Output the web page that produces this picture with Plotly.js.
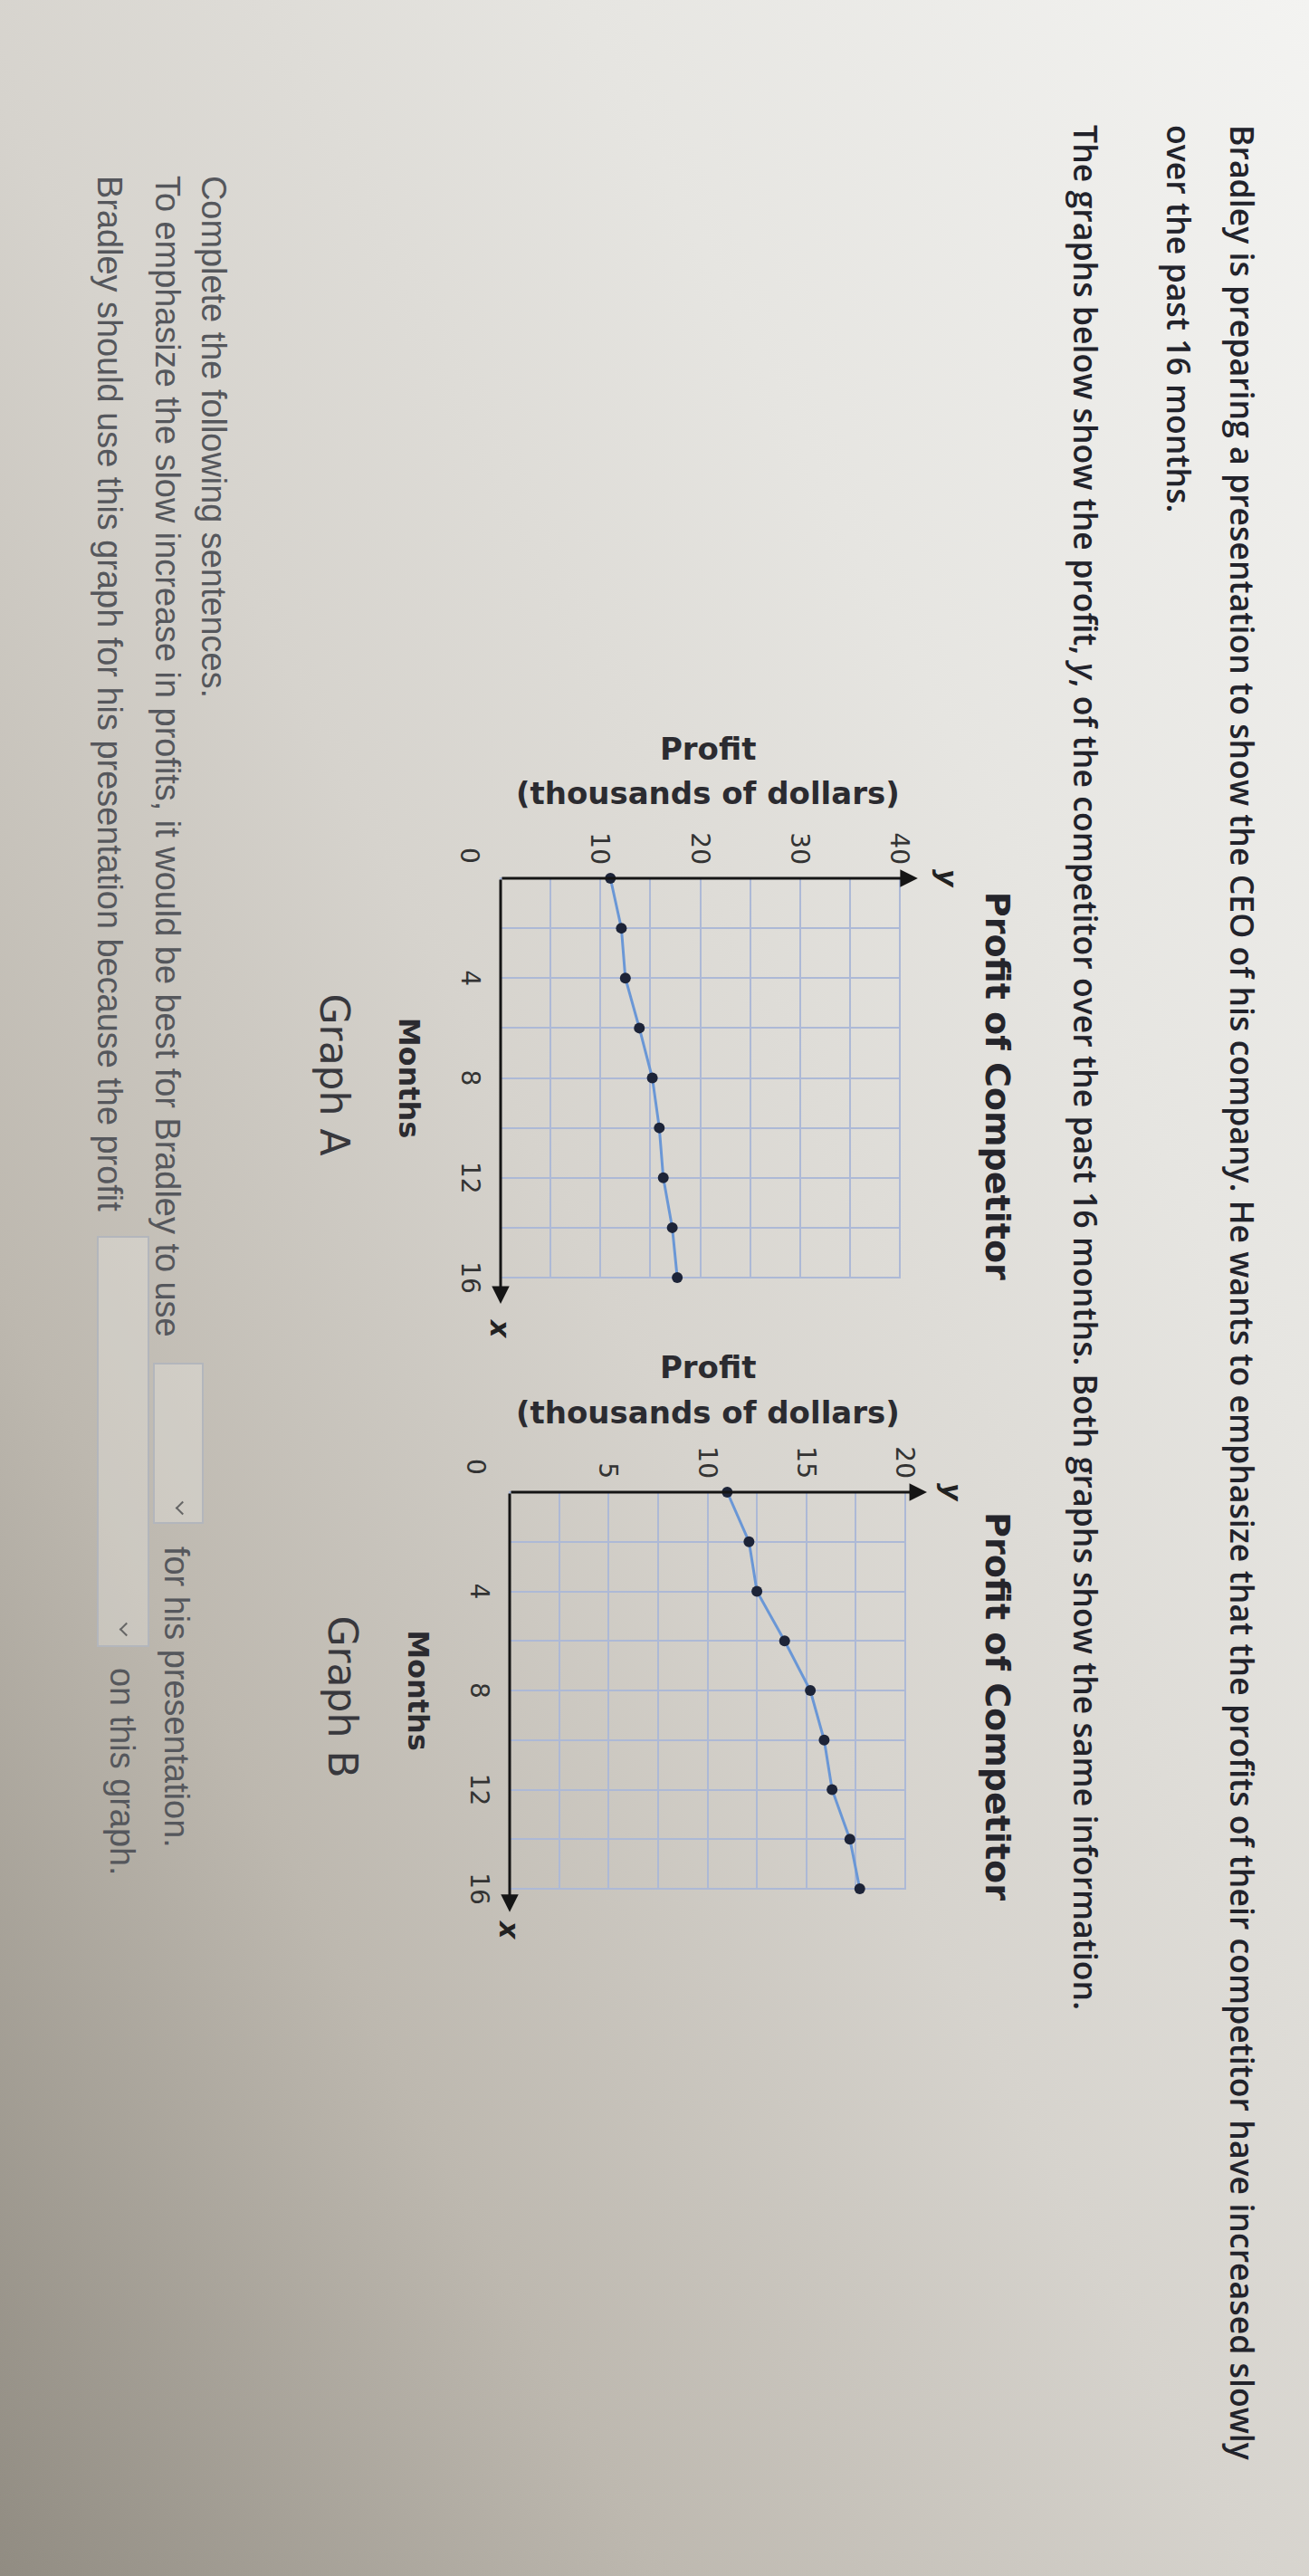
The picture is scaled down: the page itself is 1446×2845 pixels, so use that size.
<!DOCTYPE html>
<html>
<head>
<meta charset="utf-8">
<script src="https://cdn.plot.ly/plotly-3.0.1.min.js"></script>
<style>
html,body{margin:0;padding:0;}
body{width:1446px;height:2845px;overflow:hidden;position:relative;
  background:linear-gradient(to bottom left,#f3f3f1 0%,#e6e5e1 28%,#d6d3cd 52%,#bdb8af 75%,#918c82 100%);}
#page{position:absolute;left:0;top:0;width:2845px;height:1446px;transform-origin:0 0;transform:translate(1446px,0) rotate(90deg);}
.ln{position:absolute;white-space:nowrap;font-family:'Liberation Sans',Arial,sans-serif;transform:translateY(-50%);line-height:1.15;}
.top{color:#22232b;font-family:'Open Sans','Liberation Sans',Arial,sans-serif;font-weight:600;}
.bot{color:#55575c;}
.chart{position:absolute;top:300px;width:780px;height:720px;}
.gl{position:absolute;font-family:'DejaVu Sans',Verdana,sans-serif;font-size:44px;color:#38383d;transform:translate(-50%,-50%);white-space:nowrap;}
.dd{position:absolute;border:2px solid #b3b6bc;background:rgba(250,250,248,0.25);box-sizing:border-box;}
.car{position:absolute;width:9px;height:9px;border-right:2px solid #666;border-bottom:2px solid #666;transform:rotate(45deg);}
</style>
</head>
<body>
<div id="page">
  <div class="ln top" id="L1" style="left:138px;top:74px;">Bradley is preparing a presentation to show the CEO of his company. He wants to emphasize that the profits of their competitor have increased slowly</div>
  <div class="ln top" id="L2" style="left:138px;top:144px;">over the past 16 months.</div>
  <div class="ln top" id="L3" style="left:138px;top:247px;">The graphs below show the profit, <i>y</i>, of the competitor over the past 16 months. Both graphs show the same information.</div>

  <div class="chart" id="chartA" style="left:770px;"></div>
  <div class="chart" id="chartB" style="left:1448px;"></div>
  <div class="gl" style="left:1187px;top:1077px;">Graph A</div>
  <div class="gl" style="left:1874px;top:1068px;">Graph B</div>

  <div class="ln bot" id="B1" style="left:194px;top:1211px;">Complete the following sentences.</div>
  <div class="ln bot" id="B2" style="left:194px;top:1262px;">To emphasize the slow increase in profits, it would be best for Bradley to use</div>
  <div class="dd" style="left:1505px;top:1221px;width:178px;height:56px;"><div class="car" style="left:153px;top:16px;"></div></div>
  <div class="ln bot" id="B2b" style="left:1708px;top:1252px;">for his presentation.</div>
  <div class="ln bot" id="B3" style="left:194px;top:1326px;">Bradley should use this graph for his presentation because the profit</div>
  <div class="dd" style="left:1365px;top:1281px;width:454px;height:58px;"><div class="car" style="left:427px;top:18px;"></div></div>
  <div class="ln bot" id="B3b" style="left:1842px;top:1312px;">on this graph.</div>
</div>
<script>
// ---- data ----
const months = [0, 2, 4, 6, 8, 10, 12, 14, 16];
const profit = [11.0, 12.1, 12.5, 13.9, 15.2, 15.9, 16.3, 17.2, 17.7];
const xTickVals = [4, 8, 12, 16];
const yTickValsA = [10, 20, 30, 40];
const yTickValsB = [5, 10, 15, 20];
const chartTitle = 'Profit of Competitor';
const xTitle = 'Months';
const yTitleLines = ['Profit', '(thousands of dollars)'];

// ---- text fitting ----
function fit(el, target){ el.style.fontSize='100px'; const w=el.offsetWidth; return 100*target/w; }
const sTop = fit(document.getElementById('L1'), 2580);
['L1','L2','L3'].forEach(id=>document.getElementById(id).style.fontSize=sTop+'px');
const sBot = fit(document.getElementById('B2'), 1283);
['B1','B2','B2b','B3','B3b'].forEach(id=>document.getElementById(id).style.fontSize=sBot+'px');

// ---- charts ----
const gridColor = '#adb9d6';
const W = 780, H = 720;
function makeChart(id, cfg){
  const plotW = W - cfg.margin.l - cfg.margin.r;
  const plotH = H - cfg.margin.t - cfg.margin.b;
  const trace = {
    x: months, y: profit, type:'scatter', mode:'lines+markers',
    line:{color:'#6a97d6', width:3},
    marker:{size:12, color:'#1d2438'},
    cliponaxis:false, hoverinfo:'skip'
  };
  const yTitleAnns = yTitleLines.map((s, i) => ({
    xref:'paper', yref:'paper', x:0, y:cfg.yTitleY, xshift:cfg.yTitleShift[i],
    text:'<b>'+s+'</b>', textangle:-90, showarrow:false, xanchor:'center', yanchor:'middle',
    font:{size:34, color:'#2b2b30'}
  }));
  const layout = {
    width:W, height:H, autosize:false, margin:cfg.margin,
    paper_bgcolor:'rgba(0,0,0,0)', plot_bgcolor:'rgba(0,0,0,0)', showlegend:false,
    font:{family:'DejaVu Sans, Verdana, sans-serif', color:'#2b2b30'},
    title:{text:'<b>'+chartTitle+'</b>', font:{size:38, color:'#25252b'},
      xref:'paper', x:cfg.titleX, xanchor:'center', yref:'container', y:1-44/H, yanchor:'middle'},
    xaxis:{range:[0,16], tickmode:'array', tickvals:xTickVals, ticktext:xTickVals.map(String),
      ticks:'', showline:false, zeroline:false, showgrid:true, gridcolor:gridColor, gridwidth:2,
      minor:{tickmode:'linear', tick0:0, dtick:2, showgrid:true, gridcolor:gridColor, gridwidth:2},
      tickfont:{size:28, color:'#333'}, ticklabelstandoff:14,
      title:{text:'<b>'+xTitle+'</b>', font:{size:32, color:'#2b2b30'}, standoff:40}, fixedrange:true},
    yaxis:{range:[0,cfg.yMax], tickmode:'array', tickvals:cfg.yTicks, ticktext:cfg.yTicks.map(String),
      ticks:'', showline:false, zeroline:false, showgrid:true, gridcolor:gridColor, gridwidth:2,
      minor:{tickmode:'linear', tick0:0, dtick:cfg.yMinor, showgrid:true, gridcolor:gridColor, gridwidth:2},
      tickfont:{size:28, color:'#333'}, ticklabelstandoff:14, fixedrange:true},
    shapes:[{type:'rect', xref:'paper', yref:'paper', x0:0, x1:1, y0:0, y1:1, line:{color:gridColor, width:2}, layer:'below'}],
    annotations:[
      {xref:'paper', yref:'paper', x:cfg.xTip, y:0, axref:'pixel', ayref:'pixel', ax:-cfg.xTip*plotW, ay:0,
        text:'', showarrow:true, arrowhead:2, arrowsize:1.3, arrowwidth:3, arrowcolor:'#151515'},
      {xref:'paper', yref:'paper', x:0, y:cfg.yTip, axref:'pixel', ayref:'pixel', ax:0, ay:cfg.yTip*plotH,
        text:'', showarrow:true, arrowhead:2, arrowsize:1.3, arrowwidth:3, arrowcolor:'#151515'},
      {xref:'paper', yref:'paper', x:cfg.xLab, y:0, text:'<b><i>x</i></b>', showarrow:false,
        xanchor:'center', yanchor:'middle', font:{size:30, color:'#222'}},
      {xref:'paper', yref:'paper', x:0, y:cfg.yLab, text:'<b><i>y</i></b>', showarrow:false,
        xanchor:'center', yanchor:'middle', font:{size:30, color:'#222'}},
      {xref:'x', yref:'y', x:0, y:0, text:'0', showarrow:false, xanchor:'center', yanchor:'middle',
        xshift:cfg.zero[0], yshift:cfg.zero[1], font:{size:28, color:'#333'}}
    ].concat(yTitleAnns)
  };
  Plotly.newPlot(id, [trace], layout, {staticPlot:true, displayModeBar:false});
}

makeChart('chartA', {margin:{l:200, r:139, t:152, b:127}, yMax:40, yTicks:yTickValsA, yMinor:5,
  titleX:0.52, xTip:1.066, yTip:1.045, xLab:1.129, yLab:1.12, zero:[-25,-34],
  yTitleY:0.519, yTitleShift:[-143,-94]});
makeChart('chartB', {margin:{l:200, r:142, t:146, b:137}, yMax:20, yTicks:yTickValsB, yMinor:2.5,
  titleX:0.54, xTip:1.059, yTip:1.055, xLab:1.105, yLab:1.117, zero:[-28,-37],
  yTitleY:0.501, yTitleShift:[-138,-88]});
</script>
</body>
</html>
